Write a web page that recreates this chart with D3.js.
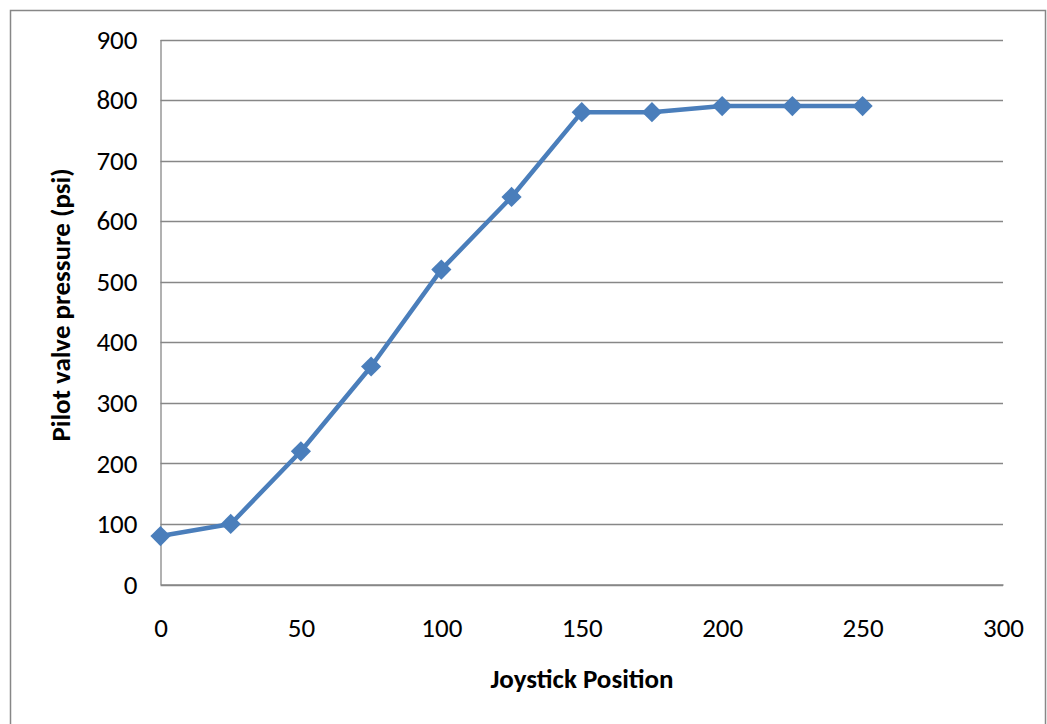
<!DOCTYPE html>
<html><head><meta charset="utf-8">
<script src="https://cdn.jsdelivr.net/npm/d3@7"></script>
<style>body{margin:0;background:#fff}svg{display:block}</style>
</head><body>
<svg id="c" width="1047" height="724"></svg>
<script>
const xValues = [0, 25, 50, 75, 100, 125, 150, 175, 200, 225, 250];
const pressure = [80, 100, 220, 360, 520, 640, 780, 780, 790, 790, 790];
const xTicks = [0, 50, 100, 150, 200, 250, 300];
const yTicks = [0, 100, 200, 300, 400, 500, 600, 700, 800, 900];
const xTitle = "Joystick Position";
const yTitle = "Pilot valve pressure (psi)";

(function () {
const svg = d3.select("#c");
const font = "Carlito, Calibri, 'Open Sans', 'Noto Sans', sans-serif";
const fs = 27;
const pLeft = 160.5, pRight = 1003, pTop = 39.5, pBottom = 584.5;
const x = d3.scaleLinear().domain([0, 300]).range([pLeft, pRight]);
const y = d3.scaleLinear().domain([0, 900]).range([pBottom, pTop]);

// outer frame
svg.append("rect").attr("x", 10.5).attr("y", 10.5).attr("width", 1035).attr("height", 740)
  .attr("fill", "#fff").attr("stroke", "#878787").attr("stroke-width", 1.5);

// gridlines
svg.append("g").selectAll("line").data(yTicks).join("line")
  .attr("x1", pLeft).attr("x2", pRight)
  .attr("y1", d => Math.round(y(d)) + 0.5).attr("y2", d => Math.round(y(d)) + 0.5)
  .attr("stroke", "#878787").attr("stroke-width", 1.3);

// y axis
const yAxis = svg.append("g").attr("transform", `translate(${pLeft},0)`)
  .call(d3.axisLeft(y).tickValues(yTicks).tickSize(0).tickPadding(23));
yAxis.select(".domain").attr("stroke", "#878787").attr("stroke-width", 1.3);
yAxis.selectAll("text").attr("font-family", font).attr("font-size", fs).attr("fill", "#000");

// x axis
const xAxis = svg.append("g").attr("transform", `translate(0,${pBottom})`)
  .call(d3.axisBottom(x).tickValues(xTicks).tickSize(0).tickPadding(33));
xAxis.select(".domain").attr("stroke", "#878787").attr("stroke-width", 1.3);
xAxis.selectAll("text").attr("font-family", font).attr("font-size", fs).attr("fill", "#000");

// titles
svg.append("text").attr("x", 582).attr("y", 688)
  .attr("text-anchor", "middle").attr("font-family", font).attr("font-weight", "bold")
  .attr("font-size", fs).text(xTitle);
svg.append("text").attr("transform", `translate(70,305) rotate(-90)`)
  .attr("text-anchor", "middle").attr("font-family", font).attr("font-weight", "bold")
  .attr("font-size", fs).text(yTitle);

// line
const pts = xValues.map((v, i) => [v, pressure[i]]);
svg.append("path").datum(pts)
  .attr("d", d3.line().x(d => x(d[0])).y(d => y(d[1])))
  .attr("fill", "none").attr("stroke", "#4a7ebb").attr("stroke-width", 4.5)
  .attr("stroke-linejoin", "round");

// diamond markers
svg.append("g").selectAll("path").data(pts).join("path")
  .attr("transform", d => `translate(${x(d[0])},${y(d[1])})`)
  .attr("d", d3.symbol().type(d3.symbolDiamond2).size(260))
  .attr("fill", "#4a7ebb");
})();
</script>
</body></html>
